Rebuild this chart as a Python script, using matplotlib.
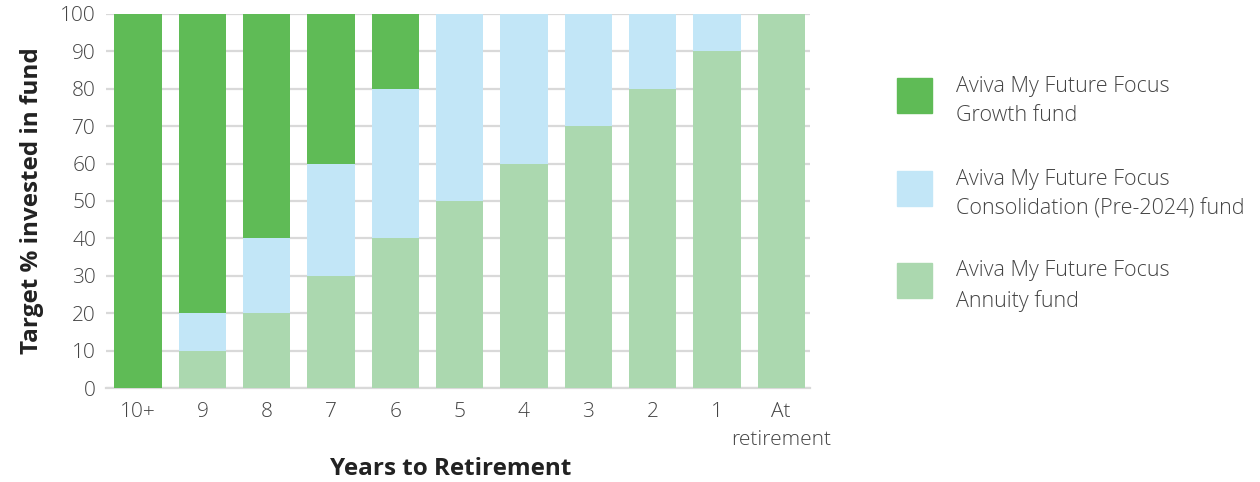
import matplotlib
matplotlib.use("Agg")
import matplotlib.pyplot as plt
from matplotlib.patches import Rectangle
import numpy as np

plt.rcParams['font.family'] = ['Open Sans', 'DejaVu Sans']

# data
years = ['10+', '9', '8', '7', '6', '5', '4', '3', '2', '1', 'At\nretirement']
annuity = [0, 10, 20, 30, 40, 50, 60, 70, 80, 90, 100]
consolidation = [0, 10, 20, 30, 40, 50, 40, 30, 20, 10, 0]
growth = [100, 80, 60, 40, 20, 0, 0, 0, 0, 0, 0]
legend_labels = ['Aviva My Future Focus\nGrowth fund',
                 'Aviva My Future Focus\nConsolidation (Pre-2024) fund',
                 'Aviva My Future Focus\nAnnuity fund']

c_growth = '#5FBB56'
c_consol = '#C2E6F7'
c_annuity = '#ABD8AF'
txt = '#444444'

fig = plt.figure(figsize=(12.6, 4.82), dpi=100)
ax = fig.add_axes([0.084, 0.195, 0.559, 0.776])

x = np.arange(len(years))
w = 0.735
ax.bar(x, annuity, w, color=c_annuity, zorder=3)
ax.bar(x, consolidation, w, bottom=annuity, color=c_consol, zorder=3)
ax.bar(x, growth, w, bottom=np.array(annuity) + np.array(consolidation), color=c_growth, zorder=3)

ax.set_xlim(-0.5, 10.45)
ax.set_ylim(0, 100)
ax.set_yticks(range(0, 101, 10))
ax.yaxis.grid(True, color='#D9D9D9', linewidth=1.6, zorder=0)
ax.set_axisbelow(True)
for s in ['left', 'right', 'top']:
    ax.spines[s].set_visible(False)
ax.spines['bottom'].set_color('#D9D9D9')
ax.spines['bottom'].set_linewidth(1.6)
ax.tick_params(axis='both', length=0, labelsize=15, labelcolor=txt)
ax.tick_params(axis='y', pad=7)
ax.tick_params(axis='x', pad=10)
ax.set_xticks(x)
ax.set_xticklabels(years, fontweight='light', linespacing=1.55)
for lab in ax.get_yticklabels():
    lab.set_fontweight('light')

ax.set_ylabel('Target % invested in fund', fontsize=17.5, fontweight='bold', color='#222222', labelpad=12)
ax.set_xlabel('Years to Retirement', fontsize=17.5, fontweight='bold', color='#222222', va='center')
ax.xaxis.set_label_coords(451 / 1260, 1 - 469 / 482, transform=fig.transFigure)

# legend drawn by hand
leg_colors = [c_growth, c_consol, c_annuity]
leg_top = [78, 171, 263]
for lab, col, top in zip(legend_labels, leg_colors, leg_top):
    fig.patches.append(Rectangle((897 / 1260, 1 - (top + 35) / 482), 35 / 1260, 35 / 482,
                                 transform=fig.transFigure, color=col))
    fig.text(956 / 1260, 1 - (top + 23) / 482, lab, fontsize=15.5, color=txt,
             fontweight='light', va='center', ha='left', linespacing=1.5)

fig.savefig('out.png', dpi=100)
